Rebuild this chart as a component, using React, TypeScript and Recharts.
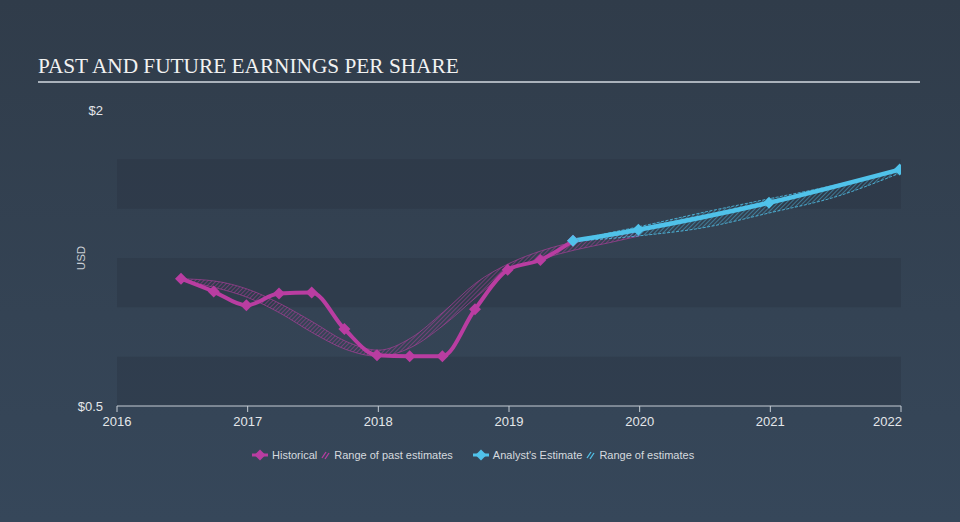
import React from 'react';
import {
    ComposedChart, Line, Area, XAxis, YAxis, ReferenceArea
} from 'recharts';

// quarterly reported EPS (fractional year)
const histDates = [2016.49, 2016.74, 2016.99, 2017.24, 2017.49, 2017.74, 2017.99, 2018.24, 2018.49, 2018.74, 2018.99, 2019.24, 2019.49];
const histEps = [1.145, 1.08, 1.01, 1.07, 1.075, 0.89, 0.757, 0.752, 0.752, 0.99, 1.19, 1.24, 1.337];

// analyst consensus
const estDates = [2019.49, 2019.99, 2020.99, 2021.99];
const estEps = [1.337, 1.393, 1.53, 1.698];

// range of past estimates
const pastRangeDates = [2016.49, 2016.75, 2017, 2017.25, 2017.5, 2017.75, 2018, 2018.25, 2018.5, 2018.75, 2019, 2019.25, 2019.5, 2019.75, 2020];
const pastRangeLow = [1.135, 1.1, 1.05, 0.97, 0.87, 0.787, 0.752, 0.797, 0.91, 1.052, 1.185, 1.245, 1.29, 1.325, 1.362];
const pastRangeHigh = [1.145, 1.133, 1.092, 1.018, 0.925, 0.828, 0.783, 0.845, 0.978, 1.125, 1.222, 1.287, 1.332, 1.367, 1.393];

// range of future estimates
const futRangeDates = [2019.49, 2019.99, 2020.5, 2020.99, 2021.5, 2021.99];
const futRangeLow = [1.335, 1.362, 1.405, 1.478, 1.56, 1.68];
const futRangeHigh = [1.34, 1.408, 1.483, 1.55, 1.62, 1.70];

const xTicks = [2016, 2017, 2018, 2019, 2020, 2021, 2022];
const yTicks = [0.5, 2];
const bandStarts = [0.5, 1.0, 1.5];
const bandSize = 0.25;

const HIST = '#b93da1';
const EST = '#50c2ea';
const FONT = '"Liberation Sans", Arial, sans-serif';

const histData = histDates.map((x, i) => ({ x, eps: histEps[i] }));
const estData = estDates.map((x, i) => ({ x, eps: estEps[i] }));
const pastRange = pastRangeDates.map((x, i) => ({ x, range: [pastRangeLow[i], pastRangeHigh[i]] }));
const futRange = futRangeDates.map((x, i) => ({ x, range: [futRangeLow[i], futRangeHigh[i]] }));

const diamond = (color: string) => (props: any) => {
    const { cx, cy, index } = props;
    if (cx == null || cy == null) return null;
    const r = 6;
    return (
        <path
            key={`d-${index}`}
            d={`M${cx},${cy - r} L${cx + r},${cy} L${cx},${cy + r} L${cx - r},${cy} Z`}
            fill={color}
        />
    );
};

const XTick = (props: any) => {
    const { x, y, payload } = props;
    const last = payload.value === 2022;
    return (
        <text
            x={last ? x + 1 : x}
            y={y}
            dy="0.71em"
            textAnchor={last ? 'end' : 'middle'}
            fill="#e4e7ea"
            fontSize={13}
            fontFamily={FONT}
        >
            {payload.value}
        </text>
    );
};

const HatchIcon = ({ color }: { color: string }) => (
    <svg width={9} height={10} style={{ marginRight: 4 }}>
        <line x1={1} y1={8} x2={5} y2={2} stroke={color} strokeWidth={1.3} />
        <line x1={4} y1={9} x2={8} y2={3} stroke={color} strokeWidth={1.3} />
    </svg>
);

const LineIcon = ({ color }: { color: string }) => (
    <svg width={16} height={12} style={{ marginRight: 4 }}>
        <line x1={0} y1={6} x2={16} y2={6} stroke={color} strokeWidth={3} />
        <path d="M8,0.5 L13.5,6 L8,11.5 L2.5,6 Z" fill={color} />
    </svg>
);

export default function App() {
    return (
        <div
            style={{
                position: 'absolute',
                left: 0,
                top: 0,
                width: 960,
                height: 522,
                background: 'linear-gradient(180deg, #303c4a 0%, #344354 60%, #36475a 100%)',
                fontFamily: FONT,
                overflow: 'hidden',
            }}
        >
            <div
                style={{
                    position: 'absolute',
                    left: 38,
                    top: 56,
                    fontFamily: '"Liberation Serif", "Times New Roman", serif',
                    fontSize: 21.3,
                    lineHeight: '21px',
                    color: '#f2f2f2',
                    whiteSpace: 'nowrap',
                }}
            >
                PAST AND FUTURE EARNINGS PER SHARE
            </div>
            <div
                style={{
                    position: 'absolute',
                    left: 38,
                    top: 81,
                    width: 882,
                    height: 2,
                    background: '#aab2bb',
                }}
            />

            <ComposedChart
                width={960}
                height={522}
                margin={{ top: 110, right: 59, bottom: 86, left: 57 }}
            >
                <defs>
                    <pattern id="pastHatch" width="3" height="3" patternUnits="userSpaceOnUse" patternTransform="rotate(45)">
                        <line x1="0" y1="0" x2="0" y2="3" stroke={HIST} strokeWidth="1.2" strokeOpacity={0.8} />
                    </pattern>
                    <pattern id="futHatch" width="3" height="3" patternUnits="userSpaceOnUse" patternTransform="rotate(45)">
                        <line x1="0" y1="0" x2="0" y2="3" stroke={EST} strokeWidth="1.2" strokeOpacity={0.75} />
                    </pattern>
                </defs>

                {bandStarts.map(b => (
                    <ReferenceArea
                        key={b}
                        y1={b}
                        y2={b + bandSize}
                        fill="#27323f"
                        fillOpacity={0.35}
                        stroke="none"
                    />
                ))}

                <XAxis
                    dataKey="x"
                    type="number"
                    domain={[2016, 2022]}
                    ticks={xTicks}
                    allowDataOverflow
                    height={30}
                    stroke="#c5ccd4"
                    tickSize={6}
                    tickMargin={5}
                    tick={<XTick />}
                />
                <YAxis
                    type="number"
                    domain={[0.5, 2]}
                    ticks={yTicks}
                    width={60}
                    axisLine={false}
                    tickLine={false}
                    tickSize={0}
                    tickMargin={14}
                    tick={{ fill: '#e4e7ea', fontSize: 13, fontFamily: FONT }}
                    tickFormatter={(v: number) => `$${v}`}
                    label={{
                        content: (p: any) => {
                            const vb = p.viewBox;
                            const cx = vb.x + 24;
                            const cy = vb.y + vb.height / 2;
                            return (
                                <text
                                    x={cx}
                                    y={cy}
                                    transform={`rotate(-90 ${cx} ${cy})`}
                                    textAnchor="middle"
                                    dominantBaseline="central"
                                    fill="#c9ced4"
                                    fontSize={11.5}
                                    fontFamily={FONT}
                                >
                                    USD
                                </text>
                            );
                        },
                    }}
                />

                <Area
                    data={pastRange}
                    dataKey="range"
                    type="monotone"
                    stroke={HIST}
                    strokeOpacity={0.6}
                    strokeWidth={1}
                    fill="url(#pastHatch)"
                    fillOpacity={1}
                    isAnimationActive={false}
                    dot={false}
                    activeDot={false}
                />
                <Area
                    data={futRange}
                    dataKey="range"
                    type="monotone"
                    stroke={EST}
                    strokeOpacity={0.8}
                    strokeWidth={1}
                    strokeDasharray="3 1.5"
                    fill="url(#futHatch)"
                    fillOpacity={1}
                    isAnimationActive={false}
                    dot={false}
                    activeDot={false}
                />
                <Line
                    data={histData}
                    dataKey="eps"
                    type="monotone"
                    stroke={HIST}
                    strokeWidth={4}
                    dot={diamond(HIST)}
                    activeDot={false}
                    isAnimationActive={false}
                />
                <Line
                    data={estData}
                    dataKey="eps"
                    type="monotone"
                    stroke={EST}
                    strokeWidth={4.5}
                    dot={diamond(EST)}
                    activeDot={false}
                    isAnimationActive={false}
                />
            </ComposedChart>

            <div
                style={{
                    position: 'absolute',
                    left: 252,
                    top: 449,
                    display: 'flex',
                    alignItems: 'center',
                    fontSize: 11,
                    color: '#d6dadf',
                    whiteSpace: 'nowrap',
                }}
            >
                <LineIcon color={HIST} />
                <span style={{ marginRight: 4 }}>Historical</span>
                <HatchIcon color={HIST} />
                <span style={{ marginRight: 20 }}>Range of past estimates</span>
                <LineIcon color={EST} />
                <span style={{ marginRight: 4 }}>Analyst's Estimate</span>
                <HatchIcon color={EST} />
                <span>Range of estimates</span>
            </div>
        </div>
    );
}
